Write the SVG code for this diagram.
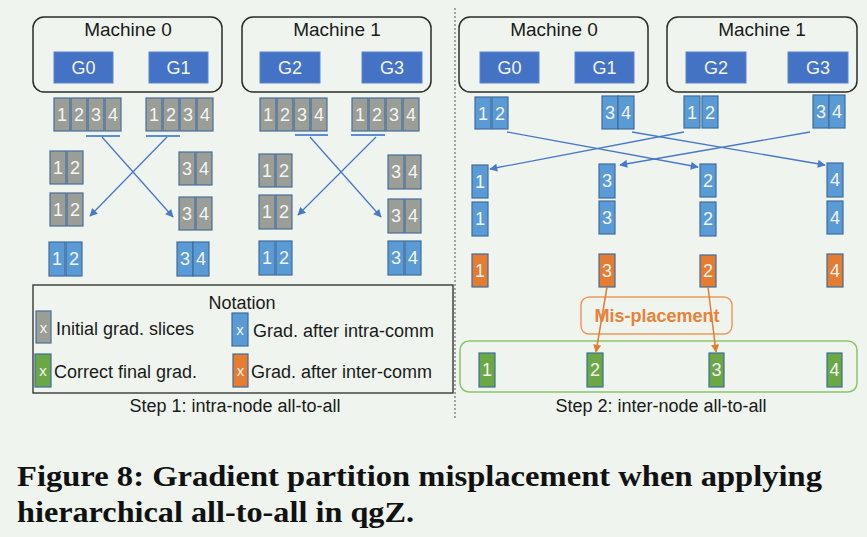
<svg xmlns="http://www.w3.org/2000/svg" width="867" height="537" viewBox="0 0 867 537">
<defs>
<style>
.bg{fill:#eff5ee}
.mach{fill:none;stroke:#2b2b2b;stroke-width:1.5}
.gpu{fill:#4472c4;stroke:#5a86cf;stroke-width:1}
.t{font-family:"Liberation Sans",Arial,sans-serif;fill:#1a1a1a}
.tw{font-family:"Liberation Sans",Arial,sans-serif;fill:#f4f4f4;text-anchor:middle}
.gray{fill:#9a9e97;stroke:#4a6d9c;stroke-width:1.2}
.blue{fill:#5b9bd5;stroke:#3e6d9c;stroke-width:1.2}
.org{fill:#e47c32;stroke:#3e6d9c;stroke-width:1.2}
.grn{fill:#6aa846;stroke:#3e6d9c;stroke-width:1.2}
.ul{stroke:#5b8fd0;stroke-width:2}
.arr{stroke:#4a78c8;stroke-width:1.3;fill:none;marker-end:url(#ab)}
.oarr{stroke:#e47c32;stroke-width:1.5;fill:none;marker-end:url(#ao)}
.s{font-size:18px}
</style>
<marker id="ab" viewBox="0 0 10 10" refX="9" refY="5" markerWidth="10" markerHeight="8" markerUnits="userSpaceOnUse" orient="auto"><path d="M0,0 L10,5 L0,10 z" fill="#4a78c8"/></marker>
<marker id="ao" viewBox="0 0 10 10" refX="9" refY="5" markerWidth="10" markerHeight="8" markerUnits="userSpaceOnUse" orient="auto"><path d="M0,0 L10,5 L0,10 z" fill="#e47c32"/></marker>
</defs>
<rect class="bg" x="0" y="0" width="867" height="537"/>

<!-- divider -->
<line x1="455" y1="8" x2="455" y2="418" stroke="#555" stroke-width="1" stroke-dasharray="2,2"/>

<!-- LEFT PANEL -->
<g id="L-machine0">
<rect class="mach" x="33" y="17" width="189" height="75" rx="11"/>
<text class="t" x="128" y="36" font-size="19" text-anchor="middle">Machine 0</text>
<rect class="gpu" x="54" y="52" width="59" height="31"/><text class="tw" x="83.5" y="74" font-size="18">G0</text>
<rect class="gpu" x="149" y="52" width="59" height="31"/><text class="tw" x="178.5" y="74" font-size="18">G1</text>
</g>
<g id="L-machine1">
<rect class="mach" x="242" y="17" width="189" height="75" rx="11"/>
<text class="t" x="337" y="36" font-size="19" text-anchor="middle">Machine 1</text>
<rect class="gpu" x="260" y="52" width="60" height="31"/><text class="tw" x="290" y="74" font-size="18">G2</text>
<rect class="gpu" x="362" y="52" width="60" height="31"/><text class="tw" x="392" y="74" font-size="18">G3</text>
</g>

<g id="L-g0-slices">
<rect class="gray" x="54" y="98" width="16" height="33"/><text class="tw s" x="62" y="121">1</text>
<rect class="gray" x="71" y="98" width="16" height="33"/><text class="tw s" x="79" y="121">2</text>
<rect class="gray" x="88" y="98" width="16" height="33"/><text class="tw s" x="96" y="121">3</text>
<rect class="gray" x="105" y="98" width="16" height="33"/><text class="tw s" x="113" y="121">4</text>
</g>
<g id="L-g1-slices">
<rect class="gray" x="146" y="98" width="16" height="33"/><text class="tw s" x="154" y="121">1</text>
<rect class="gray" x="163" y="98" width="16" height="33"/><text class="tw s" x="171" y="121">2</text>
<rect class="gray" x="180" y="98" width="16" height="33"/><text class="tw s" x="188" y="121">3</text>
<rect class="gray" x="197" y="98" width="16" height="33"/><text class="tw s" x="205" y="121">4</text>
</g>
<g id="L-g2-slices">
<rect class="gray" x="260" y="98" width="16" height="33"/><text class="tw s" x="268" y="121">1</text>
<rect class="gray" x="277" y="98" width="16" height="33"/><text class="tw s" x="285" y="121">2</text>
<rect class="gray" x="294" y="98" width="16" height="33"/><text class="tw s" x="302" y="121">3</text>
<rect class="gray" x="311" y="98" width="16" height="33"/><text class="tw s" x="319" y="121">4</text>
</g>
<g id="L-g3-slices">
<rect class="gray" x="352" y="98" width="16" height="33"/><text class="tw s" x="360" y="121">1</text>
<rect class="gray" x="369" y="98" width="16" height="33"/><text class="tw s" x="377" y="121">2</text>
<rect class="gray" x="386" y="98" width="16" height="33"/><text class="tw s" x="394" y="121">3</text>
<rect class="gray" x="403" y="98" width="16" height="33"/><text class="tw s" x="411" y="121">4</text>
</g>

<g id="L-m0-a">
<rect class="gray" x="50" y="151" width="16" height="33"/><text class="tw s" x="58" y="174">1</text>
<rect class="gray" x="67" y="151" width="16" height="33"/><text class="tw s" x="75" y="174">2</text>
<rect class="gray" x="50" y="193" width="16" height="33"/><text class="tw s" x="58" y="216">1</text>
<rect class="gray" x="67" y="193" width="16" height="33"/><text class="tw s" x="75" y="216">2</text>
<rect class="blue" x="49" y="242" width="16" height="34"/><text class="tw s" x="57" y="265">1</text>
<rect class="blue" x="66" y="242" width="16" height="34"/><text class="tw s" x="74" y="265">2</text>
</g>
<g id="L-m0-b">
<rect class="gray" x="179" y="152" width="16" height="33"/><text class="tw s" x="187" y="175">3</text>
<rect class="gray" x="196" y="152" width="16" height="33"/><text class="tw s" x="204" y="175">4</text>
<rect class="gray" x="179" y="197" width="16" height="33"/><text class="tw s" x="187" y="220">3</text>
<rect class="gray" x="196" y="197" width="16" height="33"/><text class="tw s" x="204" y="220">4</text>
<rect class="blue" x="177" y="242" width="16" height="34"/><text class="tw s" x="185" y="265">3</text>
<rect class="blue" x="193" y="242" width="16" height="34"/><text class="tw s" x="201" y="265">4</text>
</g>
<g id="L-m1-a">
<rect class="gray" x="259" y="154" width="16" height="33"/><text class="tw s" x="267" y="177">1</text>
<rect class="gray" x="276" y="154" width="16" height="33"/><text class="tw s" x="284" y="177">2</text>
<rect class="gray" x="259" y="195" width="16" height="34"/><text class="tw s" x="267" y="218">1</text>
<rect class="gray" x="276" y="195" width="16" height="34"/><text class="tw s" x="284" y="218">2</text>
<rect class="blue" x="259" y="241" width="16" height="34"/><text class="tw s" x="267" y="264">1</text>
<rect class="blue" x="276" y="241" width="16" height="34"/><text class="tw s" x="284" y="264">2</text>
</g>
<g id="L-m1-b">
<rect class="gray" x="388" y="155" width="16" height="34"/><text class="tw s" x="396" y="178">3</text>
<rect class="gray" x="405" y="155" width="16" height="34"/><text class="tw s" x="413" y="178">4</text>
<rect class="gray" x="388" y="199" width="16" height="34"/><text class="tw s" x="396" y="222">3</text>
<rect class="gray" x="405" y="199" width="16" height="34"/><text class="tw s" x="413" y="222">4</text>
<rect class="blue" x="388" y="241" width="16" height="34"/><text class="tw s" x="396" y="264">3</text>
<rect class="blue" x="405" y="241" width="16" height="34"/><text class="tw s" x="413" y="264">4</text>
</g>

<g id="L-notation">
<rect x="33" y="285" width="420" height="108" fill="none" stroke="#444" stroke-width="1.5"/>
<text class="t" x="242" y="309" font-size="18" text-anchor="middle">Notation</text>
<rect class="gray" x="36" y="311" width="15" height="32"/><text class="tw" x="43.5" y="333" font-size="15">x</text>
<text class="t" x="56" y="335" font-size="18">Initial grad. slices</text>
<rect class="blue" x="232" y="313" width="16" height="33"/><text class="tw" x="240" y="335" font-size="15">x</text>
<text class="t" x="253" y="337" font-size="18">Grad. after intra-comm</text>
<rect class="grn" x="35" y="354" width="16" height="33"/><text class="tw" x="43" y="376" font-size="15">x</text>
<text class="t" x="54" y="378" font-size="18">Correct final grad.</text>
<rect class="org" x="233" y="354" width="15" height="33"/><text class="tw" x="240.5" y="376" font-size="15">x</text>
<text class="t" x="251" y="378" font-size="18">Grad. after inter-comm</text>
</g>
<text class="t" x="235" y="412" font-size="18" text-anchor="middle">Step 1: intra-node all-to-all</text>

<!-- RIGHT PANEL -->
<g id="R-machine0">
<rect class="mach" x="459" y="17" width="189" height="75" rx="11"/>
<text class="t" x="554" y="36" font-size="19" text-anchor="middle">Machine 0</text>
<rect class="gpu" x="480" y="52" width="59" height="31"/><text class="tw" x="509.5" y="74" font-size="18">G0</text>
<rect class="gpu" x="575" y="52" width="59" height="31"/><text class="tw" x="604.5" y="74" font-size="18">G1</text>
</g>
<g id="R-machine1">
<rect class="mach" x="667" y="17" width="190" height="75" rx="11"/>
<text class="t" x="762" y="36" font-size="19" text-anchor="middle">Machine 1</text>
<rect class="gpu" x="686" y="52" width="60" height="31"/><text class="tw" x="716" y="74" font-size="18">G2</text>
<rect class="gpu" x="788" y="52" width="60" height="31"/><text class="tw" x="818" y="74" font-size="18">G3</text>
</g>

<g id="R-top-slices">
<rect class="blue" x="475" y="97" width="16" height="32"/><text class="tw s" x="483" y="120">1</text>
<rect class="blue" x="492" y="97" width="16" height="32"/><text class="tw s" x="500" y="120">2</text>
<rect class="blue" x="602" y="96" width="16" height="33"/><text class="tw s" x="610" y="119">3</text>
<rect class="blue" x="618" y="96" width="16" height="33"/><text class="tw s" x="626" y="119">4</text>
<rect class="blue" x="684" y="96" width="16" height="32"/><text class="tw s" x="692" y="119">1</text>
<rect class="blue" x="702" y="96" width="16" height="32"/><text class="tw s" x="710" y="119">2</text>
<rect class="blue" x="813" y="95" width="16" height="33"/><text class="tw s" x="821" y="118">3</text>
<rect class="blue" x="829" y="95" width="16" height="33"/><text class="tw s" x="837" y="118">4</text>
</g>

<g id="R-col1">
<rect class="blue" x="472" y="165" width="16" height="33"/><text class="tw s" x="480" y="188">1</text>
<rect class="blue" x="472" y="202" width="16" height="34"/><text class="tw s" x="480" y="225">1</text>
<rect class="org" x="472" y="254" width="16" height="33"/><text class="tw s" x="480" y="277">1</text>
</g>
<g id="R-col2">
<rect class="blue" x="599" y="164" width="16" height="34"/><text class="tw s" x="607" y="187">3</text>
<rect class="blue" x="599" y="201" width="16" height="33"/><text class="tw s" x="607" y="224">3</text>
<rect class="org" x="599" y="254" width="16" height="33"/><text class="tw s" x="607" y="277">3</text>
</g>
<g id="R-col3">
<rect class="blue" x="700" y="164" width="16" height="33"/><text class="tw s" x="708" y="187">2</text>
<rect class="blue" x="700" y="202" width="16" height="34"/><text class="tw s" x="708" y="225">2</text>
<rect class="org" x="700" y="255" width="16" height="32"/><text class="tw s" x="708" y="277">2</text>
</g>
<g id="R-col4">
<rect class="blue" x="827" y="163" width="16" height="34"/><text class="tw s" x="835" y="186">4</text>
<rect class="blue" x="827" y="201" width="16" height="33"/><text class="tw s" x="835" y="224">4</text>
<rect class="org" x="827" y="254" width="16" height="33"/><text class="tw s" x="835" y="277">4</text>
</g>

<g id="R-misplacement">
<rect x="581" y="297" width="151" height="37" rx="8" fill="none" stroke="#ed9a5e" stroke-width="1.5"/>
<text x="657" y="322" font-family="Liberation Sans,Arial,sans-serif" font-size="18" font-weight="bold" fill="#e8813a" text-anchor="middle">Mis-placement</text>
</g>

<g id="R-final">
<rect x="460" y="341" width="397" height="51" rx="9" fill="none" stroke="#8cc46c" stroke-width="1.5"/>
<rect class="grn" x="479" y="353" width="16" height="34"/><text class="tw s" x="487" y="376">1</text>
<rect class="grn" x="587" y="353" width="16" height="34"/><text class="tw s" x="595" y="376">2</text>
<rect class="grn" x="709" y="353" width="15" height="34"/><text class="tw s" x="716.5" y="376">3</text>
<rect class="grn" x="827" y="353" width="15" height="34"/><text class="tw s" x="834.5" y="376">4</text>
</g>
<text class="t" x="661" y="412" font-size="18" text-anchor="middle">Step 2: inter-node all-to-all</text>

<g id="connectors">
<line class="ul" x1="86" y1="136" x2="120" y2="136"/>
<line class="ul" x1="146" y1="136" x2="180" y2="136"/>
<line class="ul" x1="295" y1="135" x2="328" y2="135"/>
<line class="ul" x1="351" y1="135" x2="385" y2="135"/>
<line class="arr" x1="102" y1="137" x2="173" y2="217"/>
<line class="arr" x1="167" y1="137" x2="90" y2="216"/>
<line class="arr" x1="310" y1="137" x2="381" y2="217"/>
<line class="arr" x1="376" y1="137" x2="298" y2="215"/>
<line class="arr" x1="507" y1="132" x2="698" y2="167"/>
<line class="arr" x1="684" y1="132" x2="490" y2="169"/>
<line class="arr" x1="632" y1="132" x2="825" y2="165"/>
<line class="arr" x1="810" y1="132" x2="620" y2="165"/>
<line class="oarr" x1="607" y1="287" x2="596" y2="352"/>
<line class="oarr" x1="708" y1="287" x2="716" y2="352"/>
</g>

<g id="caption" font-family="Liberation Serif,Times New Roman,serif" font-weight="bold" font-size="30" fill="#111" xml:space="preserve">
<text x="17" y="486" textLength="805" lengthAdjust="spacingAndGlyphs">Figure 8:  Gradient partition misplacement when applying</text>
<text x="17" y="522" textLength="397" lengthAdjust="spacingAndGlyphs">hierarchical all-to-all in qgZ.</text>
</g>
</svg>
